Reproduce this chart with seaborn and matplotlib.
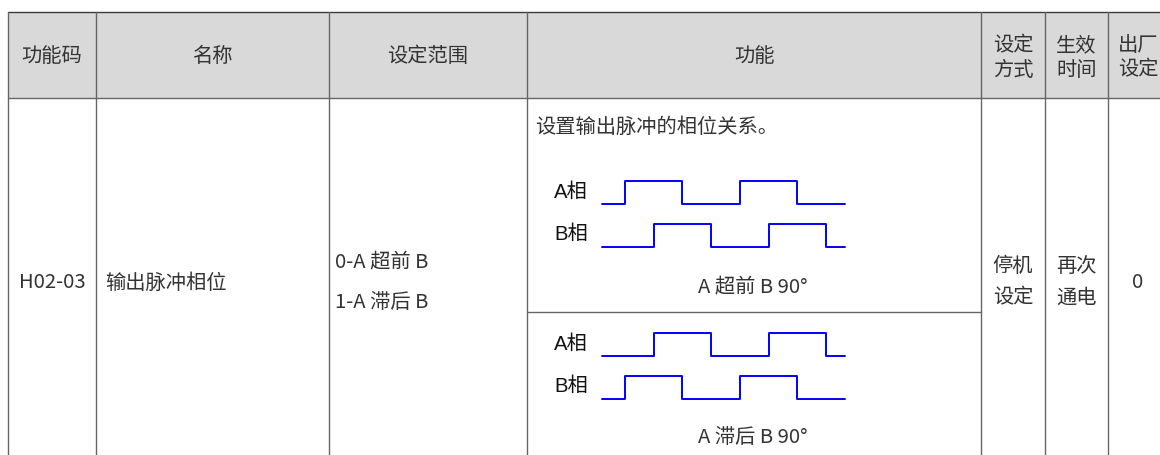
import matplotlib.pyplot as plt
import numpy as np
import pandas as pd
import seaborn as sns

# ---- table content ----
header = ['功能码', '名称', '设定范围', '功能', '设定\n方式', '生效\n时间', '出厂\n设定']
param_code = 'H02-03'
param_name = '输出脉冲相位'
setting_range = ['0-A 超前 B', '1-A 滞后 B']
description = '设置输出脉冲的相位关系。'
captions = ['A 超前 B 90°', 'A 滞后 B 90°']
phase_names = ['A相', 'B相']
set_mode = '停机\n设定'
effective = '再次\n通电'
default_value = '0'

# pulse edges in quarter periods (signals start low, toggle at each edge)
edges_a_lead = [0.8, 2.8, 4.8, 6.8]
edges_b_lead = [1.8, 3.8, 5.8, 7.8]
edges_a_lag = [1.8, 3.8, 5.8, 7.8]
edges_b_lag = [0.8, 2.8, 4.8, 6.8]
t_end = 8.45

sns.set_theme(style='white')
plt.rcParams['font.family'] = ['Noto Sans CJK SC', 'DejaVu Sans']

W, H = 1160, 455
fig = plt.figure(figsize=(W / 100, H / 100), dpi=100)
ax = fig.add_axes([0, 0, 1, 1])
ax.set_xlim(0, W)
ax.set_ylim(H, 0)
ax.axis('off')

col_x = [8, 96, 329, 527, 981, 1045, 1108, 1168]
head_top, head_bot, body_bot = 12.3, 98.3, 466
split_y = 311.7
txt = '#333333'
grid = '#666666'
fs = 14.6

# header background and grid
ax.fill_between([col_x[0], col_x[-1]], head_top, head_bot, color='#d9d9d9', lw=0, zorder=0)
ax.plot([col_x[0], col_x[-1]], [head_top, head_top], color='#3c3c3c', lw=1.0)
ax.plot([col_x[0], col_x[-1]], [head_bot, head_bot], color=grid, lw=1.0)
ax.plot([col_x[3], col_x[4]], [split_y, split_y], color=grid, lw=1.0)
for x in col_x:
    ax.plot([x, x], [head_top, body_bot], color=grid, lw=1.0)

def cell_text(x, y, s, ha='center', gap=24.5, **kw):
    lines = s.split('\n')
    y0 = y - gap * (len(lines) - 1) / 2
    for i, line in enumerate(lines):
        ax.text(x, y0 + i * gap, line, ha=ha, va='center', fontsize=fs, color=txt, **kw)

# header
for i, h in enumerate(header):
    yy = 58 if '\n' in h else 56
    cell_text((col_x[i] + col_x[i + 1]) / 2, yy, h)

# body
mid = 283
cell_text((col_x[0] + col_x[1]) / 2, mid, param_code)
cell_text(col_x[1] + 9, mid, param_name, ha='left')
cell_text(col_x[2] + 6, mid - 1, '\n'.join(setting_range), ha='left', gap=40)
cell_text(col_x[3] + 8, 127, description, ha='left')
cell_text((col_x[4] + col_x[5]) / 2, mid - 1, set_mode, gap=32)
cell_text((col_x[5] + col_x[6]) / 2, mid - 1, effective, gap=32)
cell_text((col_x[6] + col_x[7]) / 2, mid, default_value)


def steps(edges):
    xs, ys, lvl = [0.0], [0], 0
    for e in edges:
        xs += [e, e]
        ys += [lvl, 1 - lvl]
        lvl = 1 - lvl
    xs.append(t_end)
    ys.append(lvl)
    return xs, ys


panels = [
    (181, edges_a_lead, edges_b_lead, captions[0], 287),
    (333, edges_a_lag, edges_b_lag, captions[1], 437),
]
x0, x1 = 601.7, 845
for top, ea, eb, cap, cap_y in panels:
    bottom = top + 66
    iax = fig.add_axes([x0 / W, 1 - bottom / H, (x1 - x0) / W, (bottom - top) / H])
    ax_x, ax_y = steps(ea)
    bx, by = steps(eb)
    df = pd.concat([
        pd.DataFrame({'t': ax_x, 'v': np.array(ax_y) + 1.9, 'phase': phase_names[0]}),
        pd.DataFrame({'t': bx, 'v': by, 'phase': phase_names[1]}),
    ])
    for ph in phase_names:
        sns.lineplot(data=df[df.phase == ph], x='t', y='v', sort=False, estimator=None,
                     color='#0000ff', lw=1.4, ax=iax, legend=False, clip_on=False)
    iax.set_xlim(0, t_end)
    iax.set_ylim(0, 2.9)
    iax.axis('off')
    # phase labels
    for name, yy in zip(phase_names, [top + 11.5, top + 53]):
        ax.text(588, yy, name, ha='right', va='center', fontsize=fs, color='#111111',
                family=['Liberation Sans', 'Noto Sans CJK SC'])
    ax.text(753, cap_y, cap, ha='center', va='center', fontsize=fs, color=txt)

fig.savefig('out.png', dpi=100)
